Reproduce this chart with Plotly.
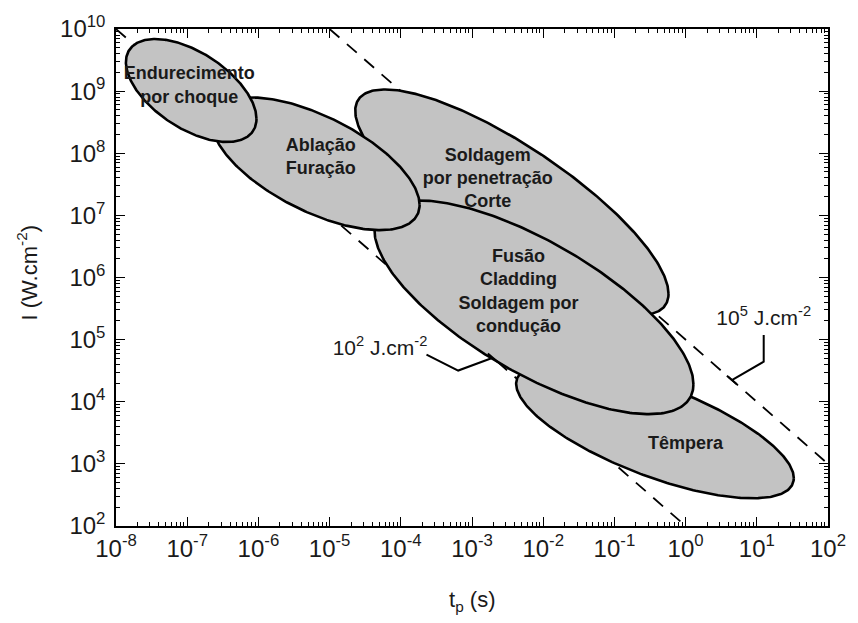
import numpy as np
import plotly.graph_objects as go

# ---- data -------------------------------------------------------------
# Laser processing regimes on the (pulse time, intensity) plane.
# Each region is an ellipse in log-log space: centre (decades), half extent
# in decades along t and I, and the t-I correlation that sets its tilt.
# Listed from back to front (drawing order).
region_names = [
    "Têmpera",
    "Soldagem<br>por penetração<br>Corte",
    "Fusão<br>Cladding<br>Soldagem por<br>condução",
    "Ablação<br>Furação",
    "Endurecimento<br>por choque",
]
center_log_t = [-0.430, -2.440, -2.130, -5.194, -6.944]
center_log_I = [3.53, 7.21, 5.52, 7.83, 9.01]
half_log_t = [1.95, 2.20, 2.24, 1.458, 0.917]
half_log_I = [1.084, 1.817, 1.72, 1.068, 0.829]
tilt_corr = [-0.70, -0.81, -0.72, -0.62, -0.55]

# Where each region's name is written (log10 t, log10 I)
name_log_t = [0.0, -2.778, -2.347, -5.125, -6.972]
name_log_I = [3.307, 7.578, 5.761, 7.928, 9.076]

# Constant-fluence lines, I * t = F  (J.cm^-2)
fluence_values = [1e2, 1e5]
fluence_labels = ["10<sup>2</sup> J.cm<sup>-2</sup>", "10<sup>5</sup> J.cm<sup>-2</sup>"]
fluence_label_log_t = [-4.292, 1.097]
fluence_label_log_I = [4.837, 5.315]
# leader from each label to its line (log10 t, log10 I); last point lies on the line
leader_log_t = [[-3.639, -3.194, -2.708], [1.097, 1.097, 0.65]]
leader_log_I = [[4.757, 4.502, None], [5.076, 4.645, None]]
leader_bar_half = 0.07  # half length of the end bar, in decades of t

# Axes
t_exponents = list(range(-8, 3))
I_exponents = list(range(2, 11))
t_tick_text = [f"10<sup>{e}</sup>" for e in t_exponents]
I_tick_text = [f"10<sup>{e}</sup>" for e in I_exponents]

# ---- figure -----------------------------------------------------------
FONT = "Liberation Sans, Arial, Helvetica, sans-serif"
fig = go.Figure()

t_min, t_max = 10.0 ** t_exponents[0], 10.0 ** t_exponents[-1]
I_min, I_max = 10.0 ** I_exponents[0], 10.0 ** I_exponents[-1]

# fluence lines (behind the regions)
for F in fluence_values:
    t0 = max(t_min, F / I_max)
    t1 = min(t_max, F / I_min)
    fig.add_trace(go.Scatter(
        x=[t0, t1], y=[F / t0, F / t1], mode="lines",
        line=dict(color="black", width=1.8, dash="13px,10px"),
        hoverinfo="skip", showlegend=False))

# regions
phi = np.linspace(0, 2 * np.pi, 361)
for cx, cy, hx, hy, r in zip(center_log_t, center_log_I, half_log_t, half_log_I, tilt_corr):
    lx = cx + hx * np.cos(phi)
    ly = cy + hy * (r * np.cos(phi) + np.sqrt(1 - r * r) * np.sin(phi))
    fig.add_trace(go.Scatter(
        x=10.0 ** lx, y=10.0 ** ly, mode="lines", fill="toself",
        fillcolor="#c3c3c3", line=dict(color="black", width=2.6),
        hoverinfo="skip", showlegend=False))

# region names
fig.add_trace(go.Scatter(
    x=[10.0 ** v for v in name_log_t], y=[10.0 ** v for v in name_log_I],
    mode="text", text=[f"<b>{n}</b>" for n in region_names],
    textposition="middle center",
    textfont=dict(family=FONT, size=18, color="#1a1a1a"),
    hoverinfo="skip", showlegend=False))

# leaders and fluence labels
for F, lt, lI in zip(fluence_values, leader_log_t, leader_log_I):
    ys = [v if v is not None else np.log10(F) - lt[i] for i, v in enumerate(lI)]
    fig.add_trace(go.Scatter(
        x=[10.0 ** v for v in lt], y=[10.0 ** v for v in ys], mode="lines",
        line=dict(color="black", width=2), hoverinfo="skip", showlegend=False))
    tb = [lt[-1] - leader_bar_half, lt[-1] + leader_bar_half]
    fig.add_trace(go.Scatter(
        x=[10.0 ** v for v in tb], y=[F / 10.0 ** v for v in tb], mode="lines",
        line=dict(color="black", width=2), hoverinfo="skip", showlegend=False))

fig.add_trace(go.Scatter(
    x=[10.0 ** v for v in fluence_label_log_t], y=[10.0 ** v for v in fluence_label_log_I],
    mode="text", text=fluence_labels, textposition="middle center",
    textfont=dict(family=FONT, size=21, color="#1a1a1a"),
    hoverinfo="skip", showlegend=False))

minor_t = [m * 10.0 ** e for e in t_exponents[:-1] for m in range(2, 10)]
minor_I = [m * 10.0 ** e for e in I_exponents[:-1] for m in range(2, 10)]

axis_common = dict(
    type="log", showgrid=False, zeroline=False,
    showline=True, linecolor="black", linewidth=1.5, mirror="allticks",
    ticks="inside", ticklen=9, tickwidth=1.3, tickcolor="black",
    tickfont=dict(family=FONT, size=24, color="#1a1a1a"),
)

fig.update_xaxes(
    range=[t_exponents[0], t_exponents[-1]],
    tickmode="array", tickvals=[10.0 ** e for e in t_exponents], ticktext=t_tick_text,
    minor=dict(tickmode="array", tickvals=minor_t, ticks="inside", ticklen=4,
               tickwidth=1, tickcolor="black", showgrid=False),
    **axis_common)
fig.update_yaxes(
    range=[I_exponents[0], I_exponents[-1]],
    tickmode="array", tickvals=[10.0 ** e for e in I_exponents], ticktext=I_tick_text,
    minor=dict(tickmode="array", tickvals=minor_I, ticks="inside", ticklen=4,
               tickwidth=1, tickcolor="black", showgrid=False),
    ticklabelstandoff=4,
    **axis_common)

fig.add_annotation(
    text="I (W.cm<sup>-2</sup>)", xref="paper", yref="paper",
    x=-0.125, y=0.51, xanchor="center", yanchor="middle",
    textangle=-90, showarrow=False,
    font=dict(family=FONT, size=22, color="#1a1a1a"))
fig.add_annotation(
    text="t<sub>p</sub> (s)", xref="paper", yref="paper",
    x=0.5, y=-0.15, xanchor="center", yanchor="middle", showarrow=False,
    font=dict(family=FONT, size=22, color="#1a1a1a"))

fig.update_layout(
    width=858, height=623,
    margin=dict(l=116, r=22, t=24, b=97),
    paper_bgcolor="white", plot_bgcolor="white",
    showlegend=False,
)

fig.write_html("out.html")
